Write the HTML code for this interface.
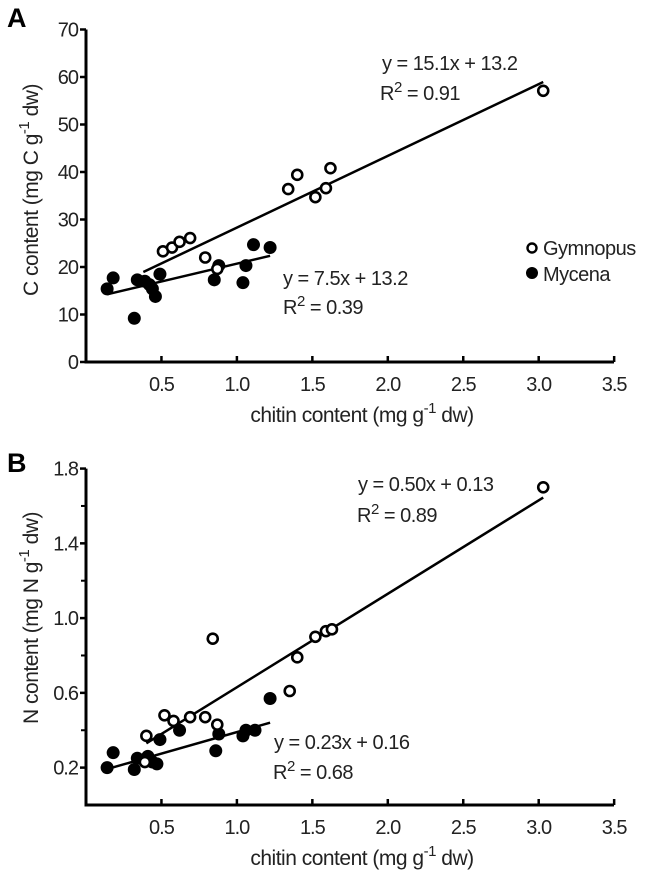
<!DOCTYPE html>
<html><head><meta charset="utf-8"><style>
html,body{margin:0;padding:0;background:#fff}
svg{display:block;font-family:"Liberation Sans",Arial,sans-serif}
</style></head><body>
<svg id="chart" width="654" height="873" viewBox="0 0 654 873" xmlns="http://www.w3.org/2000/svg"></svg>
<script>
// Panel A data: C content
const xTicks = [0.5,1.0,1.5,2.0,2.5,3.0,3.5];
const xTickLabels = ["0.5","1.0","1.5","2.0","2.5","3.0","3.5"];
const aYTicks = [0,10,20,30,40,50,60,70];
const aYTickLabels = ["0","10","20","30","40","50","60","70"];
const aGymX = [0.51,0.57,0.62,0.69,0.79,0.87,1.34,1.40,1.52,1.59,1.62,3.03];
const aGymY = [23.3,24.1,25.3,26.1,22.0,19.6,36.4,39.4,34.7,36.6,40.8,57.1];
const aMycX = [0.14,0.18,0.32,0.34,0.39,0.42,0.44,0.46,0.49,0.85,0.88,1.04,1.06,1.11,1.22];
const aMycY = [15.4,17.7,9.2,17.3,17.0,16.3,15.4,13.8,18.5,17.3,20.3,16.7,20.3,24.7,24.1];
const aGymFit = [15.1,13.2]; const aGymRange=[0.38,3.03];
const aMycFit = [7.5,13.2]; const aMycRange=[0.14,1.22];
// Panel B data: N content
const bYTicks = [0.2,0.6,1.0,1.4,1.8];
const bYTickLabels = ["0.2","0.6","1.0","1.4","1.8"];
const bYMinor = [0.4,0.8,1.2,1.6];
const bGymX = [0.39,0.40,0.52,0.58,0.69,0.79,0.87,0.84,1.35,1.40,1.52,1.59,1.63,3.03];
const bGymY = [0.23,0.37,0.48,0.45,0.47,0.47,0.43,0.89,0.61,0.79,0.90,0.93,0.94,1.70];
const bMycX = [0.14,0.18,0.32,0.34,0.41,0.44,0.47,0.49,0.62,0.86,0.88,1.04,1.06,1.12,1.22];
const bMycY = [0.20,0.28,0.19,0.25,0.26,0.23,0.22,0.35,0.40,0.29,0.38,0.37,0.40,0.40,0.57];
const bGymFit = [0.50,0.13]; const bGymRange=[0.40,3.03];
const bMycFit = [0.23,0.16]; const bMycRange=[0.14,1.22];

const NS="http://www.w3.org/2000/svg";
const svg=document.getElementById('chart');
function mk(tag,attrs,parent,text){const e=document.createElementNS(NS,tag);for(const k in attrs)e.setAttribute(k,attrs[k]);if(text!==undefined)e.textContent=text;(parent||svg).appendChild(e);return e;}

function panel(cfg){
  const g=mk('g',{});
  
  
  const X=v=>86+v*150.9;
  const Y=v=>cfg.y0-(v-cfg.ymin)*cfg.ys;
  const top=Y(cfg.ymax), bot=cfg.y0;
  const ax=mk('path',{d:`M86 ${top} L86 ${bot} L614 ${bot}`,fill:'none',stroke:'#000','stroke-width':3},g);
  
  
  xTicks.forEach((t,i)=>{
    mk('line',{x1:X(t),x2:X(t),y1:bot,y2:bot-6,stroke:'#000','stroke-width':2.5},g);
    const tl=mk('text',{x:X(t),y:bot+29,'text-anchor':'middle','font-size':20,'letter-spacing':-1,fill:'#222'},g,xTickLabels[i]);
    
    
  });
  cfg.yticks.forEach((t,i)=>{
    mk('line',{x1:86,x2:80,y1:Y(t),y2:Y(t),stroke:'#000','stroke-width':2.5},g);
    const tl=mk('text',{x:78,y:Y(t)+7,'text-anchor':'end','font-size':20,'letter-spacing':-1,fill:'#222'},g,cfg.ylabels[i]);
    
    
  });
  (cfg.minor||[]).forEach(t=>mk('line',{x1:86,x2:81,y1:Y(t),y2:Y(t),stroke:'#000','stroke-width':2},g));
  [[cfg.gFit,cfg.gR,'gymnopus-fit-line'],[cfg.mFit,cfg.mR,'mycena-fit-line']].forEach(([f,r,n])=>{
    const l=mk('line',{x1:X(r[0]),y1:Y(f[0]*r[0]+f[1]),x2:X(r[1]),y2:Y(f[0]*r[1]+f[1]),stroke:'#000','stroke-width':2.5},g);
    
    
  });
  cfg.mX.forEach((x,i)=>{
    const c=mk('circle',{cx:X(x),cy:Y(cfg.mY[i]),r:6.5,fill:'#000'},g);
    
    
  });
  cfg.gX.forEach((x,i)=>{
    const c=mk('circle',{cx:X(x),cy:Y(cfg.gY[i]),r:5,fill:'#fff',stroke:'#000','stroke-width':2.6},g);
    
    
  });
  const lab=mk('text',{x:7,y:cfg.labelY,'font-size':27,'font-weight':'bold'},g,cfg.letter);
  
  
  const xt=mk('text',{x:362,y:bot+60,'text-anchor':'middle','font-size':21,'letter-spacing':-0.5,fill:'#222'},g);
  
  
  xt.innerHTML='chitin content (mg g<tspan dy="-9" font-size="15">-1</tspan><tspan dy="9"> dw)</tspan>';
  const yt=mk('text',{transform:`translate(38 ${cfg.ytitleY}) rotate(-90)`,'text-anchor':'middle','font-size':21,'letter-spacing':-0.5,fill:'#222'},g);
  
  
  yt.innerHTML=cfg.ytitle;
  cfg.eqs.forEach(e=>{
    const t=mk('text',{x:e[0],y:e[1],'font-size':20,'letter-spacing':-0.5,fill:'#222'},g);
    
    
    t.innerHTML=e[2];
  });
}

panel({name:'panel-a',letter:'A',labelY:27,y0:362,ymin:0,ymax:70,ys:4.75,
  yticks:aYTicks,ylabels:aYTickLabels,gX:aGymX,gY:aGymY,mX:aMycX,mY:aMycY,
  gFit:aGymFit,gR:aGymRange,mFit:aMycFit,mR:aMycRange,ytitleY:190,
  ytitle:'C content (mg C g<tspan dy="-9" font-size="15">-1</tspan><tspan dy="9"> dw)</tspan>',
  eqs:[[382,70,'y = 15.1x + 13.2'],[380,100,'R<tspan dy="-8" font-size="15">2</tspan><tspan dy="8"> = 0.91</tspan>'],
       [283,285,'y = 7.5x + 13.2'],[283,314,'R<tspan dy="-8" font-size="15">2</tspan><tspan dy="8"> = 0.39</tspan>']]});

panel({name:'panel-b',letter:'B',labelY:472,y0:805,ymin:0,ymax:1.8,ys:186.9,
  yticks:bYTicks,ylabels:bYTickLabels,minor:bYMinor,gX:bGymX,gY:bGymY,mX:bMycX,mY:bMycY,
  gFit:bGymFit,gR:bGymRange,mFit:bMycFit,mR:bMycRange,ytitleY:618,
  ytitle:'N content (mg N g<tspan dy="-9" font-size="15">-1</tspan><tspan dy="9"> dw)</tspan>',
  eqs:[[358,491,'y = 0.50x + 0.13'],[357,522,'R<tspan dy="-8" font-size="15">2</tspan><tspan dy="8"> = 0.89</tspan>'],
       [274,749,'y = 0.23x + 0.16'],[273,779,'R<tspan dy="-8" font-size="15">2</tspan><tspan dy="8"> = 0.68</tspan>']]});

const lg=mk('g',{});


mk('circle',{cx:532,cy:248,r:4.5,fill:'#fff',stroke:'#000','stroke-width':2.4},lg);
const l1=mk('text',{x:543,y:255,'font-size':20,'letter-spacing':-0.5,fill:'#222'},lg,'Gymnopus');


mk('circle',{cx:532,cy:273,r:6,fill:'#000'},lg);
const l2=mk('text',{x:543,y:281,'font-size':20,'letter-spacing':-0.5,fill:'#222'},lg,'Mycena');


</script>
</body></html>
